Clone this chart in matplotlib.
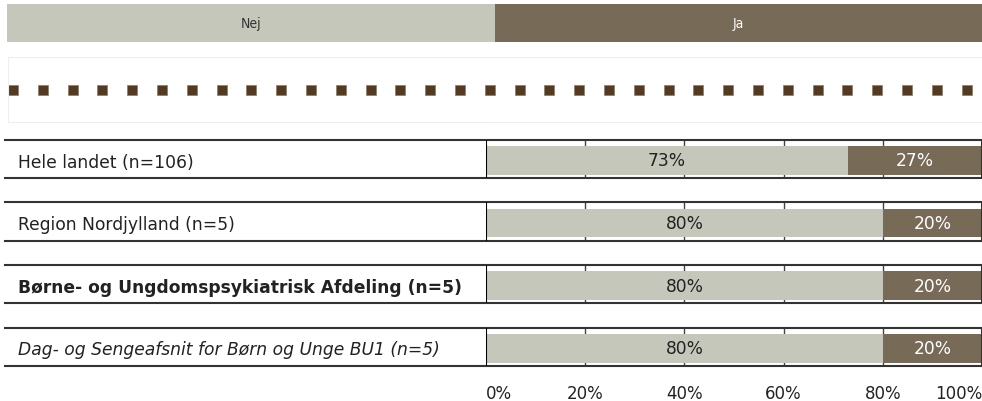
import matplotlib.pyplot as plt
from matplotlib.transforms import blended_transform_factory, offset_copy

# survey answers per unit, share in percent
labels = ["Hele landet (n=106)", "Region Nordjylland (n=5)",
          "Børne- og Ungdomspsykiatrisk Afdeling (n=5)",
          "Dag- og Sengeafsnit for Børn og Unge BU1 (n=5)"]
nej = [73, 80, 80, 80]
ja = [27, 20, 20, 20]
weights = ["normal", "normal", "bold", "normal"]
styles = ["normal", "normal", "normal", "italic"]
legend_names = ["Nej", "Ja"]
ticks = [0, 20, 40, 60, 80, 100]
tick_labels = ["0%", "20%", "40%", "60%", "80%", "100%"]

grey = "#c5c7ba"
brown = "#776a57"
dot = "#553a22"
line = "#333333"
fs = 12.3

W, H = 982, 402
fig = plt.figure(figsize=(W / 100, H / 100), dpi=100)


def px_axes(x0, y0, x1, y1):
    # axes placed by pixel box (top-left origin)
    return fig.add_axes([x0 / W, 1 - y1 / H, (x1 - x0) / W, (y1 - y0) / H])


# legend band on top
lax = px_axes(7, 5, 982, 43)
lax.barh([0, 0], [1, 1], left=[0, 1], height=1, color=[grey, brown])
lax.text(0.5, 0, legend_names[0], ha="center", va="center", fontsize=10,
         color="#333333", fontstretch="condensed")
lax.text(1.5, 0, legend_names[1], ha="center", va="center", fontsize=10,
         color="white", fontstretch="condensed")
lax.set_xlim(0, 2)
lax.set_ylim(-0.5, 0.5)
lax.axis("off")

# dotted separator row
dax = px_axes(8, 58, 982, 123)
n_dots = 33
dax.plot(range(n_dots), [0] * n_dots, "s", ms=7.2, color=dot, mec="#8a7a68", mew=0.5)
dax.set_xlim(-0.168, 32.52)
dax.set_ylim(-1, 1)
dax.set_xticks([])
dax.set_yticks([])
for s in ["top", "bottom", "left"]:
    dax.spines[s].set_color("#eeeeee")
dax.spines["right"].set_visible(False)

# stacked bars
bax = px_axes(486, 123.9, 982, 386.8)
rows = list(range(len(labels)))
bh = 0.46
bax.barh(rows, nej, height=bh, color=grey, zorder=2)
bax.barh(rows, ja, left=nej, height=bh, color=brown, zorder=2)
for r in rows:
    bax.text(nej[r] / 2, r, f"{nej[r]}%", ha="center", va="center",
             fontsize=fs, color="#222222", zorder=3)
    bax.text(nej[r] + ja[r] / 2, r, f"{ja[r]}%", ha="center", va="center",
             fontsize=fs, color="white", zorder=3)

top_off, bot_off = -0.33, 0.28
trans = blended_transform_factory(fig.transFigure, bax.transData)
for r in rows:
    y0, y1 = r + top_off, r + bot_off
    # frame lines across label cell and bar cell
    for y in (y0, y1):
        bax.plot([5 / W, 1], [y, y], transform=trans, clip_on=False,
                 color=line, lw=1.5, zorder=4)
    bax.vlines([20, 40, 60, 80], y0, y1, color="#444444", lw=1, zorder=1)
    bax.vlines([0], y0, y1, color="black", lw=1.5, zorder=4)
    bax.vlines([100], y0, y1, color=line, lw=1.5, zorder=4, clip_on=False)
    bax.text(18 / W, r + 0.02, labels[r], transform=trans, ha="left", va="center",
             fontsize=fs, color="#222222", fontweight=weights[r], fontstyle=styles[r])

bax.set_xlim(0, 100)
bax.set_ylim(3.6, -0.6)
bax.set_xticks(ticks)
bax.set_xticklabels(tick_labels, fontsize=12, color="#222222")
lbls = bax.get_xticklabels()
lbls[0].set_ha("left")
lbls[0].set_transform(offset_copy(lbls[0].get_transform(), fig=fig, x=3, units="dots"))
lbls[-1].set_ha("right")
lbls[-1].set_transform(offset_copy(lbls[-1].get_transform(), fig=fig, x=-4, units="dots"))
bax.tick_params(axis="x", length=0, pad=-1)
bax.set_yticks([])
for s in bax.spines.values():
    s.set_visible(False)

fig.savefig("out.png", dpi=100)
